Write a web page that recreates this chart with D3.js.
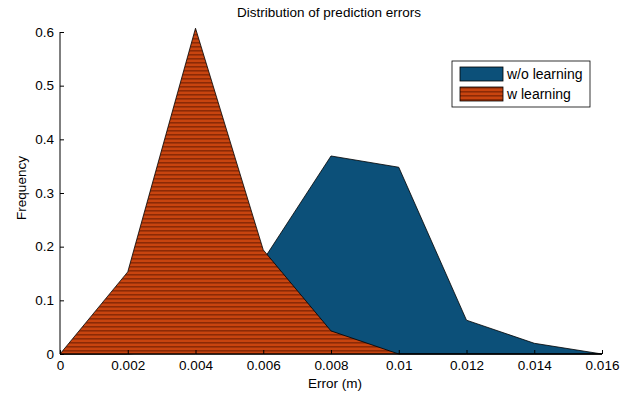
<!DOCTYPE html>
<html>
<head>
<meta charset="utf-8">
<script src="https://cdn.jsdelivr.net/npm/d3@7"></script>
<style>
  body { margin: 0; background: #fff; }
  svg text { font-family: "Liberation Sans", Arial, sans-serif; fill: #000; }
</style>
</head>
<body>
<div class="chart"></div>
<script>
// data
let errorBins = [0, 0.002, 0.004, 0.006, 0.008, 0.01, 0.012, 0.014, 0.016];
let freqWithout = [0, 0, 0.01, 0.175, 0.369, 0.348, 0.063, 0.02, 0];
let freqWith = [0, 0.153, 0.607, 0.194, 0.043, 0, 0, 0, 0];
let xTicks = [0, 0.002, 0.004, 0.006, 0.008, 0.01, 0.012, 0.014, 0.016];
let yTicks = [0, 0.1, 0.2, 0.3, 0.4, 0.5, 0.6];
let seriesNames = ['w/o learning', 'w learning'];

let width = 642, height = 394;

let svg = d3.select('.chart').append('svg')
    .attr('width', width)
    .attr('height', height);

// stripes for the "w learning" fill
let defs = svg.append('defs');
let pat = defs.append('pattern')
    .attr('id', 'stripes')
    .attr('patternUnits', 'userSpaceOnUse')
    .attr('width', 8).attr('height', 4);
pat.append('rect').attr('width', 8).attr('height', 4).attr('fill', '#c8440f');
pat.append('rect').attr('y', 2).attr('width', 8).attr('height', 1.6).attr('fill', '#8c2a06');

let x = d3.scaleLinear().domain([0, 0.016]).range([60, 602]);
let y = d3.scaleLinear().domain([0, 0.6]).range([354, 32]);

let area = d3.area()
    .x((d, i) => x(errorBins[i]))
    .y0(y(0))
    .y1(d => y(d));

svg.append('path')
    .datum(freqWithout)
    .attr('d', area)
    .attr('fill', '#0c5079')
    .attr('stroke', '#000')
    .attr('stroke-width', 0.8);

svg.append('path')
    .datum(freqWith)
    .attr('d', area)
    .attr('fill', 'url(#stripes)')
    .attr('stroke', '#000')
    .attr('stroke-width', 0.8);

// axes
let gx = svg.append('g')
    .attr('transform', 'translate(0,' + y(0) + ')')
    .call(d3.axisBottom(x).tickValues(xTicks).tickSize(-4).tickPadding(6).tickFormat(d => d3.format('~g')(d)));
let gy = svg.append('g')
    .attr('transform', 'translate(' + x(0) + ',0)')
    .call(d3.axisLeft(y).tickValues(yTicks).tickSize(-4).tickPadding(6).tickFormat(d => d3.format('~g')(d)));

[gx, gy].forEach(g => {
    g.select('.domain').attr('stroke', '#000').attr('stroke-width', 1);
    g.selectAll('.tick line').attr('stroke', '#000');
    g.selectAll('text').attr('font-size', 13.5).attr('font-family', '"Liberation Sans", Arial, sans-serif');
});
gx.select('.domain').attr('d', 'M' + x(0) + ',0H' + x(0.016));
gy.select('.domain').attr('d', 'M0,' + y(0) + 'V' + y(0.6));

// titles
svg.append('text')
    .attr('x', 329).attr('y', 17)
    .attr('text-anchor', 'middle')
    .attr('font-size', 13.5)
    .text('Distribution of prediction errors');
svg.append('text')
    .attr('x', 335).attr('y', 388)
    .attr('text-anchor', 'middle')
    .attr('font-size', 13.5)
    .text('Error (m)');
svg.append('text')
    .attr('transform', 'translate(26,188) rotate(-90)')
    .attr('text-anchor', 'middle')
    .attr('font-size', 13.5)
    .text('Frequency');

// legend
let gLegend = svg.append('g').attr('transform', 'translate(452,61)');
gLegend.append('rect')
    .attr('width', 138).attr('height', 46)
    .attr('fill', '#fff').attr('stroke', '#000').attr('stroke-width', 0.8);
let fills = ['#0c5079', 'url(#stripes)'];
seriesNames.forEach((name, i) => {
    gLegend.append('rect')
        .attr('x', 8).attr('y', 6 + i * 20)
        .attr('width', 43).attr('height', 14)
        .attr('fill', fills[i]).attr('stroke', '#000').attr('stroke-width', 0.8);
    gLegend.append('text')
        .attr('x', 55).attr('y', 18 + i * 20)
        .attr('font-size', 14)
        .text(name);
});
</script>
</body>
</html>
